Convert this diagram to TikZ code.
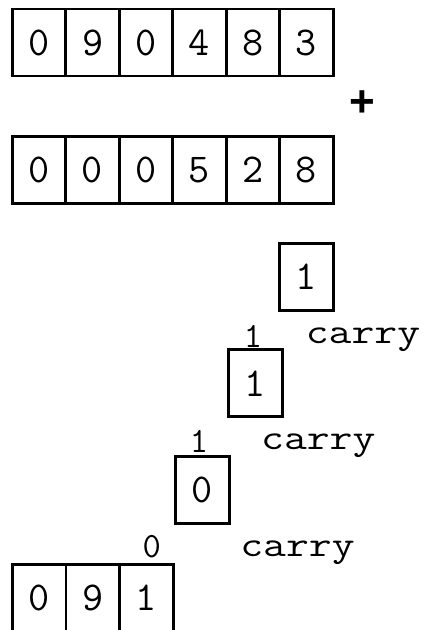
\documentclass[tikz,border=0pt]{standalone}
\usepackage{fontspec}
\setmainfont{Liberation Sans}
\usetikzlibrary{positioning}

\tikzset{
  cell/.style={draw, line width=2.8pt, minimum width=53.5pt, minimum height=67pt,
    inner sep=0pt, font=\ttfamily\fontsize{41}{41}\selectfont},
  note/.style={inner sep=0pt, anchor=base, font=\ttfamily\fontsize{35.5}{35.5}\selectfont},
  sign/.style={inner sep=0pt, font=\bfseries\fontsize{44}{44}\selectfont},
}

\begin{document}
\begin{tikzpicture}[x=1pt, y=-1pt]
\useasboundingbox (0,0) rectangle (424,630);

% first addend
\foreach \d [count=\i from 0] in {0,9,0,4,8,3}
  \node[cell] (a\i) at ({39.05+53.5*\i},42.5) {\d};

% plus sign
\node[sign] (plus) at (362.3,104) {+};

% second addend
\foreach \d [count=\i from 0] in {0,0,0,5,2,8}
  \node[cell] (b\i) at ({39.05+53.5*\i},170) {\d};

% digit-by-digit sums with carries
\node[cell, minimum width=54pt] (s5) at (306.3,276.7) {1};
\node[note] (c5) at (253,347) {1};
\node[note] (t5) at (363,343.5) {\scalebox{1.25}[1]{carry}};

\node[cell, minimum width=54pt] (s4) at (255.5,383.3) {1};
\node[note] (c4) at (199,452) {1};
\node[note] (t4) at (318.3,449.5) {\scalebox{1.25}[1]{carry}};

\node[cell, minimum width=54pt] (s3) at (202.5,490.3) {0};
\node[note] (c3) at (151.7,557) {0};
\node[note] (t3) at (297.5,556) {\scalebox{1.25}[1]{carry}};

% partial result
\foreach \d [count=\i from 0] in {0,9,1}
  \node[cell, minimum width=53.7pt] (r\i) at ({39.15+53.7*\i},598) {\d};
\end{tikzpicture}
\end{document}
